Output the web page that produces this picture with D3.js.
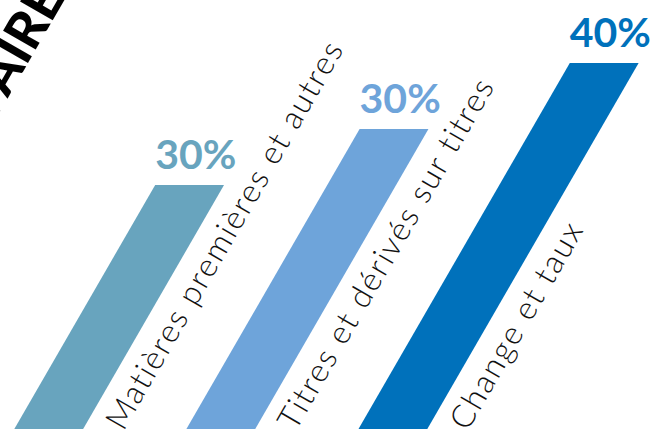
<!DOCTYPE html>
<html>
<head>
<meta charset="utf-8">
<script src="https://cdn.jsdelivr.net/npm/d3@7"></script>
<style>
  body { margin: 0; background: #fff; }
  svg { display: block; }
</style>
</head>
<body>
<svg></svg>
<script>
// Data
const categories = ['Matières premières et autres', 'Titres et dérivés sur titres', 'Change et taux']
const shares = [30, 30, 40]
const colors = ['#68a4be', '#6ea4da', '#0071bb']
const title = "CHIFFRE D'AFFAIRES"

// Canvas setup
let width = 658
let height = 429
let svg = d3.select('svg')
    .attr('width', width)
    .attr('height', height)

let slant = Math.tan(30 * Math.PI / 180)

// x positions in the unslanted frame
let xScale = d3.scaleBand()
    .domain(categories)
    .range([262, 675])
    .paddingInner(0.6)
    .paddingOuter(0)

// each bar sits a step higher than the previous one (bases are below the frame)
let baseScale = d3.scaleLinear()
    .domain([0, categories.length - 1])
    .range([615, 503])

let hScale = d3.scaleLinear()
    .domain([0, 40])
    .range([400, 440])

let bars = categories.map((c, i) => {
    return {
        cat: c,
        value: shares[i],
        color: colors[i],
        x: xScale(c),
        base: baseScale(i),
        top: baseScale(i) - hScale(shares[i])
    }
})

// slanted bars
svg.append('g')
    .attr('transform', 'skewX(-30)')
    .selectAll('rect')
    .data(bars)
    .enter()
    .append('rect')
    .attr('x', (d) => d.x)
    .attr('y', (d) => d.top)
    .attr('width', xScale.bandwidth())
    .attr('height', (d) => d.base - d.top)
    .attr('fill', (d) => d.color)

// value labels
svg.selectAll('.value')
    .data(bars)
    .enter()
    .append('text')
    .attr('class', 'value')
    .attr('x', (d) => d.x - slant * d.top)
    .attr('y', (d) => d.top - 16)
    .attr('fill', (d) => d.color)
    .style('font-family', 'Lato, sans-serif')
    .style('font-weight', 700)
    .style('font-size', '41px')
    .text((d) => d.value + '%')

// category labels running along each bar
let labelY = 432
svg.selectAll('.cat')
    .data(bars)
    .enter()
    .append('text')
    .attr('class', 'cat')
    .attr('transform', (d) => {
        let x = d.x + xScale.bandwidth() - slant * labelY + 42
        return 'translate(' + x + ',' + labelY + ') rotate(-60)'
    })
    .attr('fill', '#111')
    .style('font-family', 'Lato, sans-serif')
    .style('font-weight', 300)
    .style('font-size', '32px')
    .style('letter-spacing', '1.8px')
    .text((d) => d.cat)

// cut-off heading
svg.append('text')
    .attr('transform', 'translate(80,-27) rotate(-60)')
    .attr('text-anchor', 'end')
    .attr('fill', '#000')
    .style('font-family', 'Lato, sans-serif')
    .style('font-weight', 900)
    .style('font-size', '52px')
    .text(title)
</script>
</body>
</html>
